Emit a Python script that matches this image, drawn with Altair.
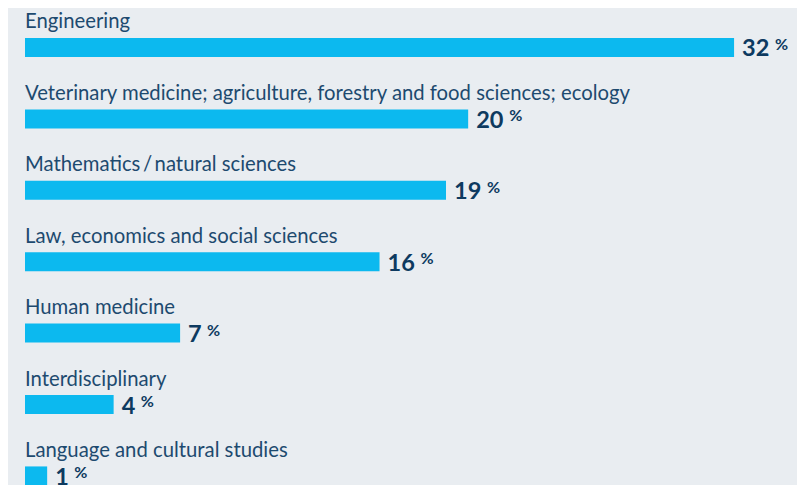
import altair as alt
import pandas as pd

categories = [
    "Engineering",
    "Veterinary medicine; agriculture, forestry and food sciences; ecology",
    "Mathematics\u2009/\u2009natural sciences",
    "Law, economics and social sciences",
    "Human medicine",
    "Interdisciplinary",
    "Language and cultural studies",
]
values = [32, 20, 19, 16, 7, 4, 1]
pct_sign = "%"

BG = "#e9edf1"
BAR = "#0cb9ef"
LABEL = "#1d4a6f"
VALUE = "#0d3a60"
FONT = "Lato"

df = pd.DataFrame({
    "category": categories,
    "value": values,
    "idx": list(range(len(categories))),
})
df["pct"] = pct_sign
df["digits"] = df["value"].astype(str).str.len()

W, H = 772, 477
x_scale = alt.Scale(domain=[0, 34.84], nice=False, zero=False)
y_scale = alt.Scale(domain=[-0.553, 6.127], reverse=True, nice=False, zero=False)

base = alt.Chart(df).transform_calculate(
    zero="0",
    y_top="datum.idx - 0.133",
    y_bot="datum.idx + 0.133",
    y_lab="datum.idx - 0.266",
)

bars = base.mark_rect(color=BAR).encode(
    x=alt.X("zero:Q", scale=x_scale, axis=None),
    x2="value:Q",
    y=alt.Y("y_top:Q", scale=y_scale, axis=None),
    y2="y_bot:Q",
)

labels = base.mark_text(
    align="left", baseline="alphabetic", font=FONT, fontSize=20.3, color=LABEL
).encode(
    x=alt.X("zero:Q", scale=x_scale, axis=None),
    y=alt.Y("y_lab:Q", scale=y_scale, axis=None),
    text="category:N",
)

nums = base.mark_text(
    align="left", baseline="alphabetic", font=FONT, fontSize=23.5,
    fontWeight="bold", color=VALUE, dx=8, dy=9,
).encode(
    x=alt.X("value:Q", scale=x_scale, axis=None),
    y=alt.Y("idx:Q", scale=y_scale, axis=None),
    text="value:Q",
)

pct2 = base.transform_filter("datum.digits >= 2").mark_text(
    align="left", baseline="alphabetic", font=FONT, fontSize=16,
    fontWeight="bold", color=VALUE, dx=41, dy=2.5,
).encode(
    x=alt.X("value:Q", scale=x_scale, axis=None),
    y=alt.Y("idx:Q", scale=y_scale, axis=None),
    text="pct:N",
)

pct1 = base.transform_filter("datum.digits < 2").mark_text(
    align="left", baseline="alphabetic", font=FONT, fontSize=16,
    fontWeight="bold", color=VALUE, dx=27, dy=2.5,
).encode(
    x=alt.X("value:Q", scale=x_scale, axis=None),
    y=alt.Y("idx:Q", scale=y_scale, axis=None),
    text="pct:N",
)

chart = alt.layer(bars, labels, nums, pct2, pct1).properties(
    width=W, height=H,
    background=BG,
    padding={"left": 17, "top": 0, "right": 0, "bottom": 0},
    autosize=alt.AutoSizeParams(type="none"),
).configure_view(stroke=None)

chart.save("out.html", embed_options={"renderer": "svg", "actions": False})
